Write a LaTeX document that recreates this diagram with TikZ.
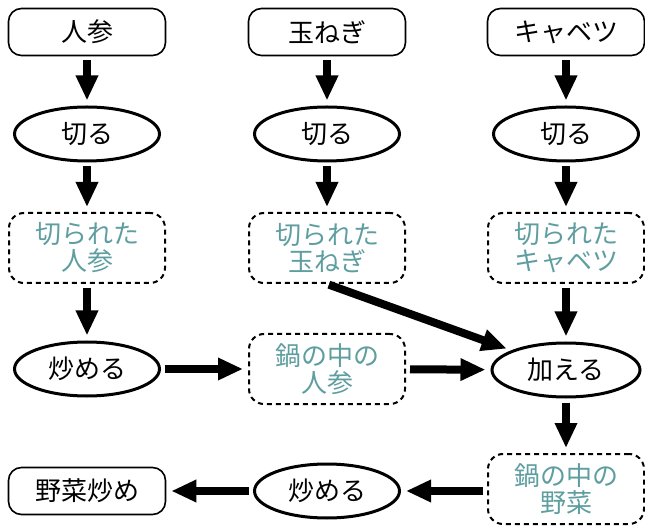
\documentclass[tikz,border=0pt]{standalone}
\usepackage{fontspec}
\setmainfont{Noto Sans CJK JP}
\usetikzlibrary{arrows.meta,shapes.geometric}
\definecolor{itemteal}{RGB}{95,158,160}
\begin{document}
\begin{tikzpicture}[x=1pt,y=-1pt,
  base/.style={font=\fontsize{26}{27}\selectfont, align=center, inner sep=0pt},
  startbox/.style={base, draw, line width=1.6pt, rounded corners=13pt, minimum width=157pt, minimum height=47pt},
  proc/.style={base, ellipse, draw, line width=3pt, minimum width=145pt, minimum height=54pt},
  item/.style={base, draw, dash pattern=on 5pt off 4pt, line width=2pt, rounded corners=15pt, minimum width=156pt, minimum height=70pt, text=itemteal},
  flow/.style={line width=8pt, -{Triangle[length=25pt,width=21pt]}, shorten <=4pt, shorten >=5pt}]
\useasboundingbox (0,0) rectangle (645,526);
% row 1
\node[startbox] (r1a) at (87,32) {人参};
\node[startbox] (r1b) at (327,32) {玉ねぎ};
\node[startbox] (r1c) at (566,32) {キャベツ};
% row 2
\node[proc] (r2a) at (87,134) {切る};
\node[proc] (r2b) at (327,134) {切る};
\node[proc] (r2c) at (566,134) {切る};
% row 3
\node[item] (r3a) at (87,248) {切られた\\人参};
\node[item] (r3b) at (327,248) {切られた\\玉ねぎ};
\node[item] (r3c) at (566,248) {切られた\\キャベツ};
% row 4
\node[proc] (r4a) at (87,369) {炒める};
\node[item] (r4b) at (327,369) {鍋の中の\\人参};
\node[proc, minimum width=148pt] (r4c) at (566,370) {加える};
% row 5
\node[startbox] (r5a) at (87,491) {野菜炒め};
\node[proc] (r5b) at (327,491) {炒める};
\node[item] (r5c) at (566,489) {鍋の中の\\野菜};
% connectors
\draw[flow] (r1a) -- (r2a);
\draw[flow] (r1b) -- (r2b);
\draw[flow] (r1c) -- (r2c);
\draw[flow] (r2a) -- (r3a);
\draw[flow] (r2b) -- (r3b);
\draw[flow] (r2c) -- (r3c);
\draw[flow] (r3a) -- (r4a);
\draw[flow] (r3c) -- (r4c);
\draw[flow, shorten <=2pt] (r3b.south) -- (r4c);
\draw[flow] (r4a) -- (r4b);
\draw[flow] (r4b) -- (r4c);
\draw[flow] (r4c) -- (r5c);
\draw[flow] (r5c.west |- r5b.center) -- (r5b);
\draw[flow] (r5b) -- (r5a);
\end{tikzpicture}
\end{document}
